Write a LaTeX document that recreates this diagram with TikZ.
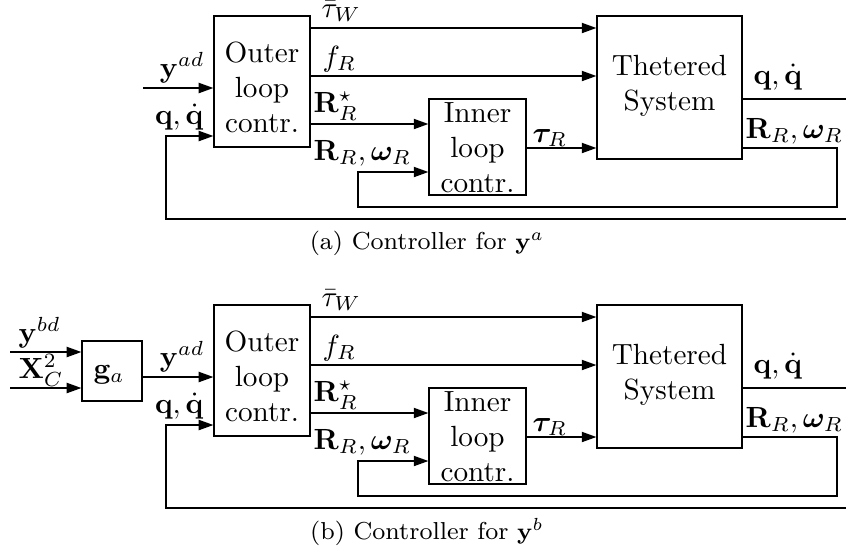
\documentclass[tikz,border=0pt]{standalone}
\usepackage{amsmath,bm}
\usetikzlibrary{arrows.meta}
\def\u{0.3425pt}
\begin{document}
\begin{tikzpicture}[x=\u,y=-\u,
  blk/.style={draw, line width=0.45pt, inner sep=0pt},
  lbl/.style={inner sep=0pt},
  btxt/.style={align=center, inner sep=0pt},
  line/.style={line width=0.45pt},
  arr/.style={line, -{Triangle[length=5pt,width=3.5pt]}},
  captxt/.style={inner sep=0pt, font=\fontsize{8.4}{10}\selectfont}]
\useasboundingbox (0,0) rectangle (846,556);
\foreach \p/\s in {a/0,b/289}{
 \begin{scope}[shift={(0,\s)}]
  % boxes
  \node[blk, minimum width={96*\u}, minimum height={131*\u}] (\p-outer) at (262,81.5) {};
  \node[blk, minimum width={97*\u}, minimum height={96*\u}] (\p-inner) at (477.5,147) {};
  \node[blk, minimum width={145*\u}, minimum height={143*\u}] (\p-sys) at (669.5,87.5) {};
  \node[btxt] (\p-outxt) at (262,87.5) {Outer\\loop\\contr.};
  \node[btxt] (\p-intxt) at (477.5,147.5) {Inner\\loop\\contr.};
  \node[btxt] (\p-systxt) at (669.5,85.5) {Thetered\\System};
  % rows
  \coordinate (\p-r1) at (0,28);
  \coordinate (\p-r2) at (0,76);
  \coordinate (\p-r3) at (0,124);
  \coordinate (\p-r4) at (0,172);
  \coordinate (\p-r5) at (0,207);
  \coordinate (\p-r6) at (0,219);
  \coordinate (\p-qin) at (0,136);
  \coordinate (\p-yin) at (0,88);
  \coordinate (\p-mid) at (0,148);
  \coordinate (\p-qout) at (0,99);
  \coordinate (\p-rx) at (837,0);
  \coordinate (\p-fx) at (852,0);
  \coordinate (\p-lx) at (358,0);
  \coordinate (\p-bx) at (166,0);
  % connectors
  \draw[arr] (\p-outer.east |- \p-r1) -- (\p-sys.west |- \p-r1);
  \draw[arr] (\p-outer.east |- \p-r2) -- (\p-sys.west |- \p-r2);
  \draw[arr] (\p-outer.east |- \p-r3) -- (\p-inner.west |- \p-r3);
  \draw[arr] (\p-inner.east |- \p-mid) -- (\p-sys.west |- \p-mid);
  \draw[arr] (\p-sys.east |- \p-mid) -- (\p-rx |- \p-mid) -- (\p-rx |- \p-r5)
     -- (\p-lx |- \p-r5) -- (\p-lx |- \p-r4) -- (\p-inner.west |- \p-r4);
  \draw[arr] (\p-sys.east |- \p-qout) -- (\p-fx |- \p-qout) -- (\p-fx |- \p-r6)
     -- (\p-bx |- \p-r6) -- (\p-bx |- \p-qin) -- (\p-outer.west |- \p-qin);
  % labels
  \node[lbl, anchor=base west] (\p-ltw) at (321,17) {$\bar{\tau}_W$};
  \node[lbl, anchor=base west] (\p-lfr) at (322,66) {$f_R$};
  \node[lbl, anchor=base west] (\p-lrs) at (313,112) {$\mathbf{R}_R^{\star}$};
  \node[lbl, anchor=base west] (\p-lrw) at (313,160) {$\mathbf{R}_R,\boldsymbol{\omega}_R$};
  \node[lbl, anchor=base east] (\p-lyad) at (205,77) {$\mathbf{y}^{ad}$};
  \node[lbl, anchor=base east] (\p-lqin) at (204,124) {$\mathbf{q},\dot{\mathbf{q}}$};
  \node[lbl, anchor=base west] (\p-ltau) at (532,142) {$\boldsymbol{\tau}_R$};
  \node[lbl, anchor=base west] (\p-lqout) at (753,84) {$\mathbf{q},\dot{\mathbf{q}}$};
  \node[lbl, anchor=base west] (\p-lrout) at (745,138) {$\mathbf{R}_R,\boldsymbol{\omega}_R$};
  \node[captxt] (\p-cap) at (427,243) {(\p) Controller for $\mathbf{y}^{\p}$};
 \end{scope}
}
% input of (a)
\coordinate (a-start) at (143,88);
\draw[arr] (a-start) -- (a-outer.west |- a-yin);
% g_a block of (b)
\node[blk, minimum width={60*\u}, minimum height={60*\u}] (ga) at (112,371) {};
\node[lbl, anchor=base] (gatxt) at (109,378) {$\mathbf{g}_a$};
\draw[arr] (ga.east |- b-yin) -- (b-outer.west |- b-yin);
\coordinate (in1) at (10,352);
\coordinate (in2) at (10,388);
\draw[arr] (in1) -- (ga.west |- in1);
\draw[arr] (in2) -- (ga.west |- in2);
\node[lbl, anchor=base west] (lybd) at (18,342) {$\mathbf{y}^{bd}$};
\node[lbl, anchor=base west] (lxc) at (18,378) {$\mathbf{X}_C^2$};
\end{tikzpicture}
\end{document}
